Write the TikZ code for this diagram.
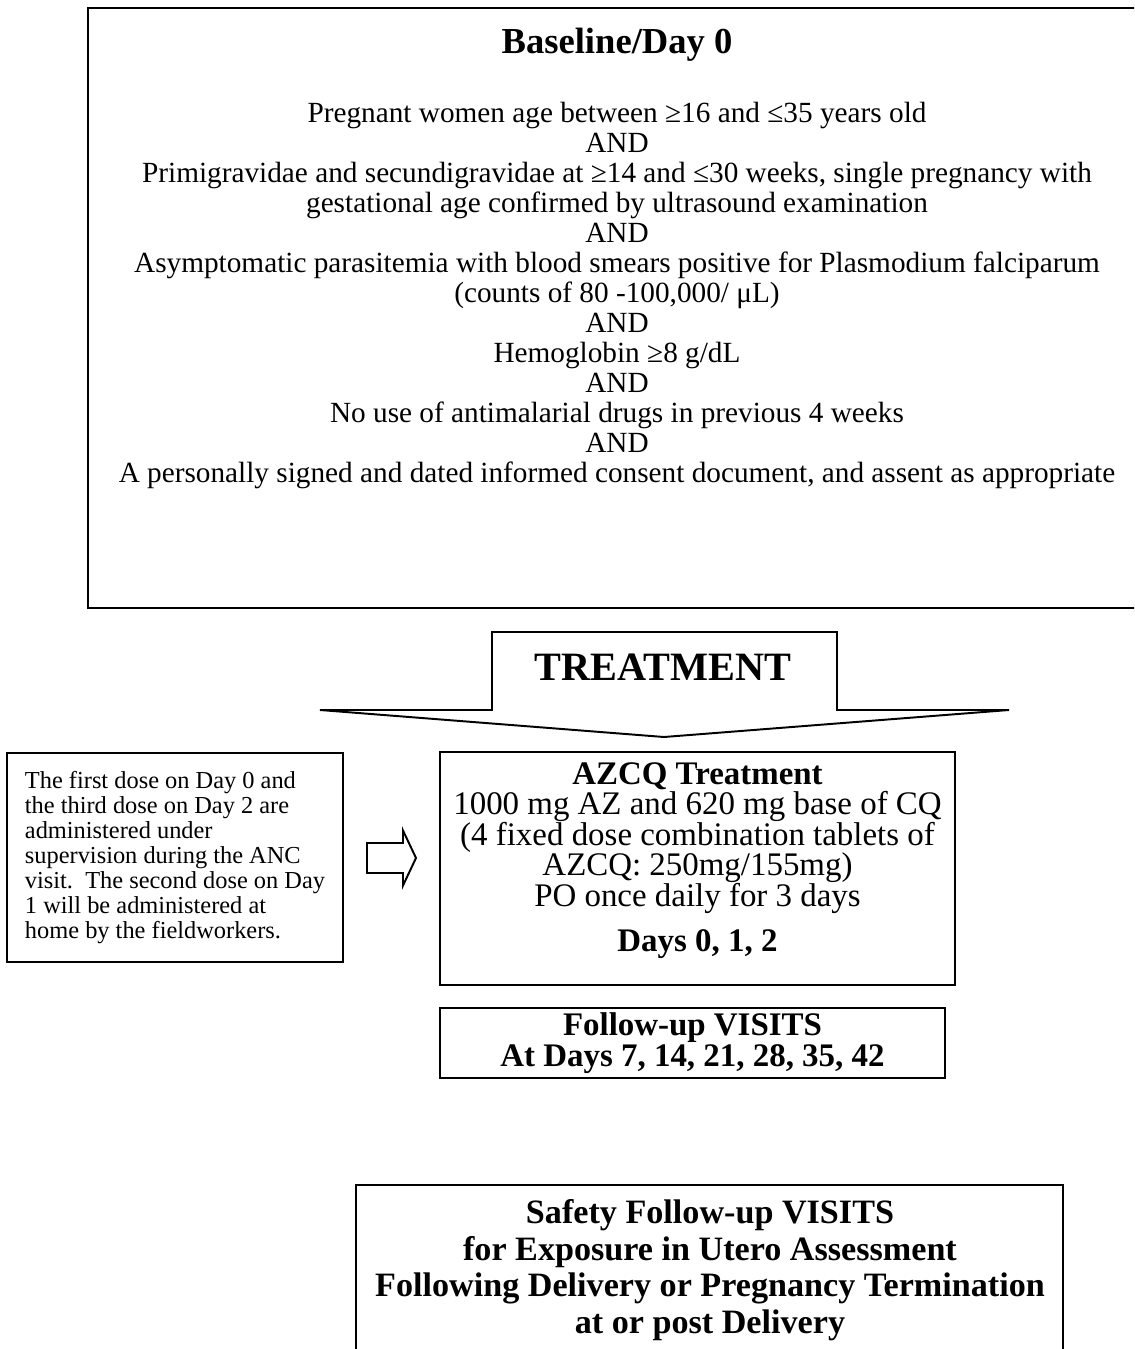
\documentclass[tikz,border=0pt]{standalone}
\usepackage{fontspec}
\setmainfont{Liberation Serif}
\usetikzlibrary{positioning}
\lineskiplimit=-20pt
\tikzstyle{frame} = [draw, line width=0.8pt, line join=miter]
\tikzstyle{block} = [rectangle, draw, line width=0.8pt, inner sep=0pt]
\tikzstyle{blocktext} = [align=center, inner sep=0pt, font=\fontsize{13.5}{12.5}\selectfont]
\tikzstyle{note} = [rectangle, draw, line width=0.8pt, align=left, inner sep=0pt, minimum width=137.8pt, minimum height=85.7pt, font=\fontsize{10}{10.3}\selectfont]
\tikzstyle{crit} = [align=center, inner sep=0pt, font=\fontsize{12}{12.3}\selectfont]
\tikzstyle{heading} = [inner sep=0pt, font=\fontsize{15}{18}\selectfont\bfseries]

\begin{document}
\begin{tikzpicture}[x=0.41pt, y=-0.41pt]
			\useasboundingbox (0,0) rectangle (1134,1349);
			\clip (0,0) rectangle (1134,1349);
			% Place nodes
			\draw [frame] (88,8) rectangle (1160,608);
			\node [heading] (baseline) at (617,45) {Baseline/Day 0};
			\node [crit] (criteria) at (617,295) {Pregnant women age between ≥16 and ≤35 years old\\
				AND\\
				Primigravidae and secundigravidae at ≥14 and ≤30 weeks, single pregnancy with\\
				gestational age confirmed by ultrasound examination\\
				AND\\
				Asymptomatic parasitemia with blood smears positive for Plasmodium falciparum\\
				(counts of 80 -100,000/ μL)\\
				AND\\
				Hemoglobin ≥8 g/dL\\
				AND\\
				No use of antimalarial drugs in previous 4 weeks\\
				AND\\
				A personally signed and dated informed consent document, and assent as appropriate};
			\node [heading, font=\fontsize{16.5}{18}\selectfont\bfseries] (treatment) at (663,667) {TREATMENT};
			\node [note] (dosing) at (175,857.5) {The first dose on Day 0 and\\
				the third dose on Day 2 are\\
				administered under\\
				supervision during the ANC\\
				visit.\ \ The second dose on Day\\
				1 will be administered at\\
				home by the fieldworkers.};
			\node [block, minimum width=211.2pt, minimum height=95.5pt] (azcq) at (697.5,868.5) {};
			\node [blocktext] (azcqtext) at (697.5,860.5) {\textbf{AZCQ Treatment}\\
				1000 mg AZ and 620 mg base of CQ\\
				(4 fixed dose combination tablets of\\
				AZCQ: 250mg/155mg)\\
				PO once daily for 3 days\\[6pt]
				\textbf{Days 0, 1, 2}};
			\node [block, blocktext, draw, font=\fontsize{13.5}{12.5}\selectfont\bfseries, minimum width=207pt, minimum height=28.7pt] (followup) at (692.5,1043) {Follow-up VISITS\\
				At Days 7, 14, 21, 28, 35, 42};
			\draw [frame] (356,1185) rectangle (1063,1370);
			\node [blocktext, font=\fontsize{14}{15}\selectfont\bfseries] (safety) at (710,1270) {Safety Follow-up VISITS\\
				for Exposure in Utero Assessment\\
				Following Delivery or Pregnancy Termination\\
				at or post Delivery};
			
			% Draw arrows
			\draw [frame] (492,710) -- (492,632) -- (837,632) -- (837,710) -- (1009,710) -- (664,737) -- (320,710) -- cycle;
			\coordinate (tail) at (367,858);
			\draw [frame] (tail) ++(0,-15) -- ++(36,0) -- ++(0,-12.5) -- ++(13,27.5) -- ++(-13,27.5) -- ++(0,-12.5) -- ++(-36,0) -- cycle;
		\end{tikzpicture}
\end{document}
